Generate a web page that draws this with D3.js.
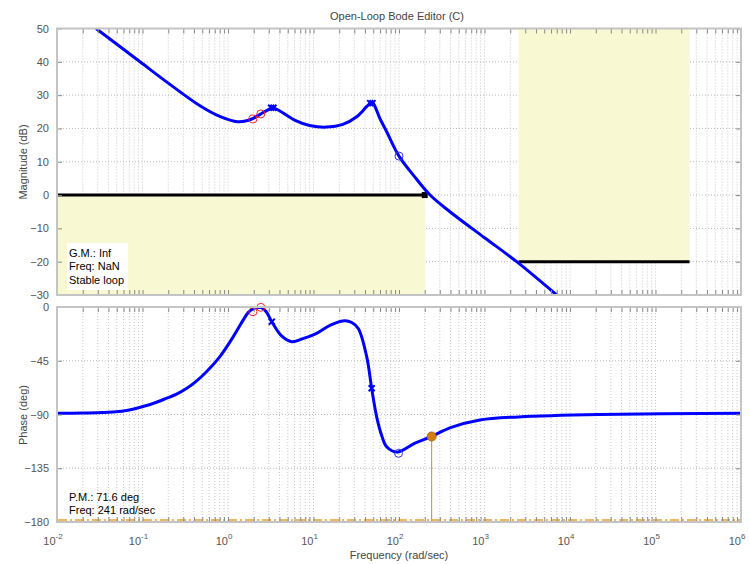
<!DOCTYPE html>
<html>
<head>
<meta charset="utf-8">
<script src="https://cdn.jsdelivr.net/npm/d3@7"></script>
<style>
  body { margin: 0; background: #fff; }
  svg { font-family: "Liberation Sans", Arial, sans-serif; }
</style>
</head>
<body>
<svg width="750" height="564"></svg>
<script>
// magnitude curve
const magFreq = [0.0286, 0.0935, 0.2, 0.47, 0.8, 1.3, 1.7, 2.0, 2.4, 2.9, 3.3, 4.0, 6, 9, 14, 22, 32, 42, 46.5, 49.5, 60, 71.8, 100, 147, 231, 394, 1000, 2380, 7000];
const magDb   = [50, 40, 33.6, 26.8, 23.6, 22.0, 22.4, 23.1, 24.3, 25.5, 26.2, 25.3, 22.5, 20.9, 20.4, 21.2, 23.5, 26.6, 27.6, 27.6, 22.9, 19.0, 11.7, 6.0, 0, -5, -12.8, -20, -30];

// phase curve
const phFreq = [0.01, 0.02, 0.045, 0.07, 0.0935, 0.13, 0.19, 0.25, 0.33, 0.42, 0.56, 0.8, 1.15, 1.73, 1.96, 2.2, 2.45, 2.8, 3.25, 4.2, 5.56, 7.5, 10.9, 16, 23.3, 28, 33.4, 41.9, 47.9, 54.8, 63, 71.8, 95, 154, 241, 400, 885, 2500, 22000, 1e6];
const phDeg  = [-89, -88.8, -88, -86.3, -84, -81, -76.5, -73, -68.1, -62.5, -54.2, -41.7, -25, -4.5, -1.5, -0.6, -0.5, -4, -12.3, -24, -29, -26.5, -22, -15, -11.5, -13, -18, -41.6, -68, -92, -108, -117, -121.5, -114, -108.4, -101, -94.6, -92, -90, -89];

// markers
const redMagF = [1.96, 2.42], redMagV = [22.85, 24.35];
const redPhF = [1.96, 2.42], redPhV = [-3.9, -0.3];
const xMagF = [3.2, 3.4, 46, 49], xMagV = [26.2, 26.2, 27.6, 27.6];
const xPhF = [3.25, 47.9], xPhV = [-12.3, -68];
const oMagF = [100], oMagV = [11.7];
const oPhF = [98.7], oPhV = [-122.5];

// design constraints
const lowBound = { f0: 0.01, f1: 200, db: 0 };
const highBound = { f0: 2500, f1: 250000, db: -20 };
const pmFreq = 241, pmPhase = -108.4;

const magTicks = [-30, -20, -10, 0, 10, 20, 30, 40, 50];
const phTicks = [-180, -135, -90, -45, 0];
const decades = [-2, -1, 0, 1, 2, 3, 4, 5, 6];

const svg = d3.select("svg");
const x = d3.scaleLog().domain([1e-2, 1e6]).range([57, 741]);
const yM = d3.scaleLinear().domain([-30, 50]).range([295, 28.5]);
const yP = d3.scaleLinear().domain([-180, 0]).range([522, 307]);

const allTicks = [];
decades.slice(0, -1).forEach(d => { for (let k = 1; k < 10; k++) allTicks.push(k * Math.pow(10, d)); });
allTicks.push(1e6);

const gray = "#c4c4c4";

function panel(y, ticks, top, bottom) {
  const g = svg.append("g");
  // vertical grid
  g.selectAll(".vg").data(allTicks.filter(t => t > 1e-2 && t < 1e6)).enter().append("line")
    .attr("x1", d => x(d)).attr("x2", d => x(d))
    .attr("y1", top).attr("y2", bottom)
    .attr("stroke", "#c8c8c8").attr("stroke-width", 1).attr("stroke-dasharray", "1,2");
  g.selectAll(".hg").data(ticks).enter().append("line")
    .attr("x1", 57).attr("x2", 741)
    .attr("y1", d => y(d)).attr("y2", d => y(d))
    .attr("stroke", "#b8b8b8").attr("stroke-width", 1).attr("stroke-dasharray", "1,2");
  return g;
}

function frame(y, ticks, top, bottom) {
  const g = svg.append("g");
  g.append("g").attr("transform", `translate(0,${bottom})`)
    .call(d3.axisBottom(x).tickValues(allTicks).tickSize(-5).tickFormat(""));
  g.append("g").attr("transform", `translate(0,${top})`)
    .call(d3.axisTop(x).tickValues(allTicks).tickSize(-5).tickFormat(""));
  g.append("g").attr("transform", "translate(57,0)")
    .call(d3.axisLeft(y).tickValues(ticks).tickSize(-5).tickPadding(8));
  g.append("g").attr("transform", "translate(741,0)")
    .call(d3.axisRight(y).tickValues(ticks).tickSize(-5).tickFormat(""));
  g.selectAll(".domain").remove();
  g.selectAll(".tick line").attr("stroke", "#888");
  g.selectAll(".tick text").attr("fill", "#555").attr("font-size", 11)
    .attr("font-family", "Liberation Sans, Arial, sans-serif");
  g.append("rect").attr("x", 57).attr("y", top).attr("width", 684).attr("height", bottom - top)
    .attr("fill", "none").attr("stroke", gray).attr("stroke-width", 2);
  return g;
}

panel(yM, magTicks, 28.5, 295);
panel(yP, phTicks, 307, 522);

// yellow regions (cover the grid)
svg.append("rect")
  .attr("x", x(lowBound.f0)).attr("y", yM(lowBound.db))
  .attr("width", x(lowBound.f1) - x(lowBound.f0)).attr("height", yM(-30) - yM(lowBound.db))
  .attr("fill", "#f8f8d2");
svg.append("rect")
  .attr("x", x(highBound.f0)).attr("y", yM(50))
  .attr("width", x(highBound.f1) - x(highBound.f0)).attr("height", yM(highBound.db) - yM(50))
  .attr("fill", "#f8f8d2");

// bounds
svg.append("line").attr("x1", x(lowBound.f0)).attr("x2", x(lowBound.f1))
  .attr("y1", yM(0)).attr("y2", yM(0)).attr("stroke", "#000").attr("stroke-width", 3);
svg.append("rect").attr("x", x(lowBound.f1) - 3).attr("y", yM(0) - 3).attr("width", 6).attr("height", 6).attr("fill", "#000");
svg.append("line").attr("x1", x(highBound.f0)).attr("x2", x(highBound.f1))
  .attr("y1", yM(highBound.db)).attr("y2", yM(highBound.db)).attr("stroke", "#000").attr("stroke-width", 3);

// -180 line
svg.append("line").attr("x1", 58).attr("x2", 740).attr("y1", yP(-180) - 2).attr("y2", yP(-180) - 2)
  .attr("stroke", "#e8a030").attr("stroke-width", 1.5).attr("stroke-dasharray", "9,3,2,3");

svg.append("clipPath").attr("id", "cm").append("rect").attr("x", 57).attr("y", 28.5).attr("width", 684).attr("height", 266.5);
svg.append("clipPath").attr("id", "cp").append("rect").attr("x", 57).attr("y", 307).attr("width", 684).attr("height", 215);

const magLine = d3.line().x(d => x(d[0])).y(d => yM(d[1])).curve(d3.curveCatmullRom.alpha(0.5));
const phLine = d3.line().x(d => x(d[0])).y(d => yP(d[1])).curve(d3.curveCatmullRom.alpha(0.5));

svg.append("path").attr("clip-path", "url(#cm)")
  .datum(magFreq.map((f, i) => [f, magDb[i]]))
  .attr("d", magLine).attr("fill", "none").attr("stroke", "#0000ff").attr("stroke-width", 3);
svg.append("path").attr("clip-path", "url(#cp)")
  .datum(phFreq.map((f, i) => [f, phDeg[i]]))
  .attr("d", phLine).attr("fill", "none").attr("stroke", "#0000ff").attr("stroke-width", 3);

function circles(fs, vs, y, color) {
  svg.append("g").selectAll("circle").data(fs).enter().append("circle")
    .attr("cx", d => x(d)).attr("cy", (d, i) => y(vs[i])).attr("r", 4)
    .attr("fill", "none").attr("stroke", color).attr("stroke-width", 1);
}
function crosses(fs, vs, y) {
  svg.append("g").selectAll("path").data(fs).enter().append("path")
    .attr("transform", (d, i) => `translate(${x(d)},${y(vs[i])})`)
    .attr("d", "M-3,-3L3,3M-3,3L3,-3")
    .attr("stroke", "#0000ff").attr("stroke-width", 2);
}
circles(redMagF, redMagV, yM, "#ff2020");
circles(redPhF, redPhV, yP, "#ff2020");
circles(oMagF, oMagV, yM, "#3030ff");
circles(oPhF, oPhV, yP, "#3030ff");
crosses(xMagF, xMagV, yM);
crosses(xPhF, xPhV, yP);

// phase margin marker
svg.append("line").attr("x1", x(pmFreq)).attr("x2", x(pmFreq))
  .attr("y1", yP(pmPhase)).attr("y2", yP(-180)).attr("stroke", "#d08a20").attr("stroke-width", 1);
svg.append("circle").attr("cx", x(pmFreq)).attr("cy", yP(pmPhase)).attr("r", 4.5)
  .attr("fill", "#d07f10").attr("stroke", "#b86a00");

frame(yM, magTicks, 28.5, 295);
frame(yP, phTicks, 307, 522);

// x tick labels
const xl = svg.append("g").attr("font-size", 11).attr("fill", "#555");
const lab = xl.selectAll("text").data(decades).enter().append("text")
  .attr("x", d => x(Math.pow(10, d)) - 4).attr("y", 545).attr("text-anchor", "middle");
lab.append("tspan").text("10");
lab.append("tspan").attr("dy", -6).attr("font-size", 8).text(d => d);

// annotation text
const gm = svg.append("g");
gm.append("rect").attr("x", 67).attr("y", 243).attr("width", 61).attr("height", 47).attr("fill", "#fff");
["G.M.: Inf", "Freq: NaN", "Stable loop"].forEach((t, i) =>
  gm.append("text").attr("x", 69).attr("y", 257 + i * 13.3).attr("font-size", 11).attr("fill", "#000").text(t));
["P.M.: 71.6 deg", "Freq: 241 rad/sec"].forEach((t, i) =>
  svg.append("text").attr("x", 69).attr("y", 500.5 + i * 13.3).attr("font-size", 11).attr("fill", "#000").text(t));

// titles
svg.append("text").attr("x", 397).attr("y", 20).attr("text-anchor", "middle")
  .attr("font-size", 11).attr("fill", "#444").text("Open-Loop Bode Editor (C)");
svg.append("text").attr("x", 399).attr("y", 559).attr("text-anchor", "middle")
  .attr("font-size", 11).attr("fill", "#444").text("Frequency (rad/sec)");
svg.append("text").attr("transform", "translate(27,162) rotate(-90)").attr("text-anchor", "middle")
  .attr("font-size", 11).attr("fill", "#444").text("Magnitude (dB)");
svg.append("text").attr("transform", "translate(27,415) rotate(-90)").attr("text-anchor", "middle")
  .attr("font-size", 11).attr("fill", "#444").text("Phase (deg)");
</script>
</body>
</html>
